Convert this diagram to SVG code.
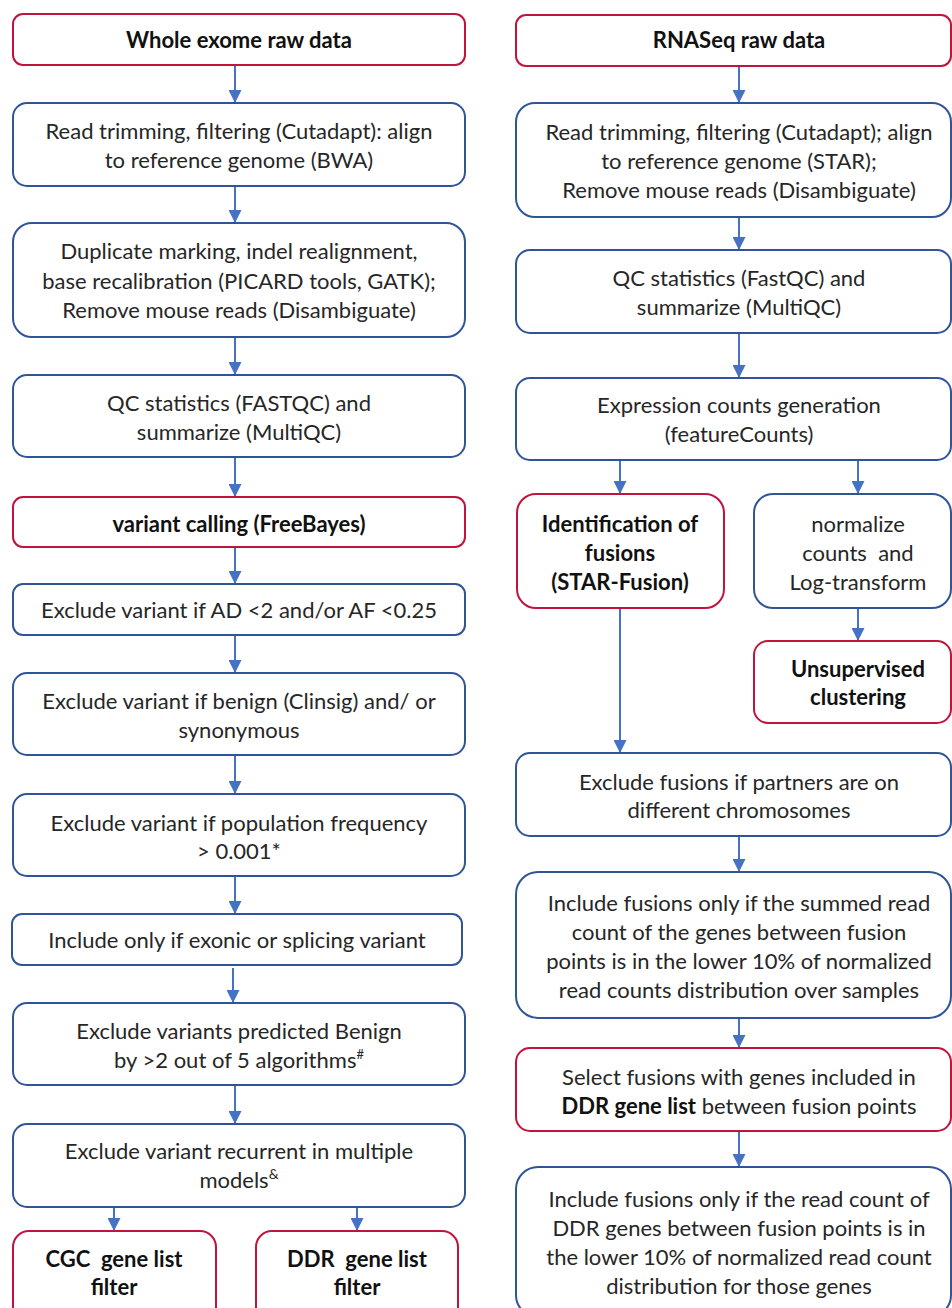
<svg xmlns="http://www.w3.org/2000/svg" width="952" height="1308" viewBox="0 0 952 1308">
<defs>
<marker id="ah" markerUnits="userSpaceOnUse" markerWidth="13" markerHeight="13" refX="13" refY="6.5" orient="auto"><path d="M0,0 L13,6.5 L0,13 z" fill="#4472C4"/></marker>
<style>
.b{fill:#fff;stroke:#2F5597;stroke-width:2}
.r{fill:#fff;stroke:#C0143C;stroke-width:2}
text{font-family:Lato,"Open Sans","DejaVu Sans",sans-serif;font-size:22px;fill:#262626;text-anchor:middle}
.bd{font-weight:bold;fill:#111}
.c line{stroke:#4472C4;stroke-width:2;marker-end:url(#ah)}
</style>
</defs>
<rect width="952" height="1308" fill="#fff"/>
<g class="c" id="connectors">
<line x1="235" y1="65" x2="235" y2="103"/>
<line x1="235" y1="186" x2="235" y2="223"/>
<line x1="235" y1="337" x2="235" y2="375"/>
<line x1="235" y1="457" x2="235" y2="497"/>
<line x1="235" y1="547" x2="235" y2="584"/>
<line x1="235" y1="635" x2="235" y2="673"/>
<line x1="235" y1="755" x2="235" y2="794"/>
<line x1="235" y1="876" x2="235" y2="914"/>
<line x1="233" y1="968" x2="233" y2="1003"/>
<line x1="235" y1="1085" x2="235" y2="1124"/>
<line x1="114" y1="1207" x2="114" y2="1231"/>
<line x1="357" y1="1207" x2="357" y2="1231"/>
<line x1="739" y1="66" x2="739" y2="103"/>
<line x1="739" y1="217" x2="739" y2="250"/>
<line x1="739" y1="333" x2="739" y2="378"/>
<line x1="620" y1="460" x2="620" y2="494"/>
<line x1="858" y1="460" x2="858" y2="494"/>
<line x1="858" y1="608" x2="858" y2="641"/>
<line x1="620" y1="608" x2="620" y2="753"/>
<line x1="739" y1="836" x2="739" y2="872"/>
<line x1="739" y1="1018" x2="739" y2="1048"/>
<line x1="739" y1="1131" x2="739" y2="1167"/>
</g>
<g id="L1"><rect class="r" x="13" y="14" width="452" height="51" rx="10"/><text class="bd" x="239" y="48">Whole exome raw data</text></g>
<g id="L2"><rect class="b" x="13" y="103" width="452" height="83" rx="14"/><text x="239" y="139">Read trimming, filtering (Cutadapt): align</text><text x="239" y="168">to reference genome (BWA)</text></g>
<g id="L3"><rect class="b" x="13" y="223" width="452" height="114" rx="19"/><text x="239" y="259">Duplicate marking, indel realignment,</text><text x="239" y="289">base recalibration (PICARD tools, GATK);</text><text x="239" y="318">Remove mouse reads (Disambiguate)</text></g>
<g id="L4"><rect class="b" x="13" y="375" width="452" height="82" rx="14"/><text x="239" y="411">QC statistics (FASTQC) and</text><text x="239" y="440">summarize (MultiQC)</text></g>
<g id="L5"><rect class="r" x="13" y="497" width="452" height="50" rx="10"/><text class="bd" x="239" y="532">variant calling (FreeBayes)</text></g>
<g id="L6"><rect class="b" x="13" y="584" width="452" height="51" rx="10"/><text x="239" y="618">Exclude variant if AD &lt;2 and/or AF &lt;0.25</text></g>
<g id="L7"><rect class="b" x="13" y="673" width="452" height="82" rx="14"/><text x="239" y="709">Exclude variant if benign (Clinsig) and/ or</text><text x="239" y="738">synonymous</text></g>
<g id="L8"><rect class="b" x="13" y="794" width="452" height="82" rx="14"/><text x="239" y="831">Exclude variant if population frequency</text><text x="239" y="859">&gt; 0.001*</text></g>
<g id="L9"><rect class="b" x="12" y="914" width="450" height="51" rx="10"/><text x="237" y="948">Include only if exonic or splicing variant</text></g>
<g id="L10"><rect class="b" x="13" y="1003" width="452" height="82" rx="14"/><text x="239" y="1039">Exclude variants predicted Benign</text><text x="239" y="1068">by &gt;2 out of 5 algorithms<tspan font-size="13" dy="-9">#</tspan></text></g>
<g id="L11"><rect class="b" x="13" y="1124" width="452" height="83" rx="14"/><text x="239" y="1159">Exclude variant recurrent in multiple</text><text x="239" y="1188">models<tspan font-size="14" dy="-9">&amp;</tspan></text></g>
<g id="L12"><rect class="r" x="13" y="1231" width="203" height="100" rx="16"/><text class="bd" x="114" y="1267" style="white-space:pre">CGC  gene list</text><text class="bd" x="114" y="1295">filter</text></g>
<g id="L13"><rect class="r" x="256" y="1231" width="202" height="100" rx="16"/><text class="bd" x="357" y="1267" style="white-space:pre">DDR  gene list</text><text class="bd" x="357" y="1295">filter</text></g>
<g id="R1"><rect class="r" x="516" y="15" width="435" height="51" rx="10"/><text class="bd" x="739" y="48">RNASeq raw data</text></g>
<g id="R2"><rect class="b" x="516" y="103" width="435" height="114" rx="19"/><text x="739" y="140">Read trimming, filtering (Cutadapt); align</text><text x="739" y="169">to reference genome (STAR);</text><text x="739" y="198">Remove mouse reads (Disambiguate)</text></g>
<g id="R3"><rect class="b" x="516" y="250" width="435" height="83" rx="14"/><text x="739" y="286">QC statistics (FastQC) and</text><text x="739" y="315">summarize (MultiQC)</text></g>
<g id="R4"><rect class="b" x="516" y="378" width="435" height="82" rx="14"/><text x="739" y="413">Expression counts generation</text><text x="739" y="442">(featureCounts)</text></g>
<g id="R5"><rect class="r" x="517" y="494" width="207" height="114" rx="19"/><text class="bd" x="620" y="532">Identification of</text><text class="bd" x="620" y="561">fusions</text><text class="bd" x="620" y="590">(STAR-Fusion)</text></g>
<g id="R6"><rect class="b" x="754" y="494" width="197" height="114" rx="19"/><text x="858" y="532">normalize</text><text x="858" y="561" style="white-space:pre">counts  and</text><text x="858" y="590">Log-transform</text></g>
<g id="R7"><rect class="r" x="754" y="641" width="197" height="82" rx="14"/><text class="bd" x="858" y="677">Unsupervised</text><text class="bd" x="858" y="705">clustering</text></g>
<g id="R8"><rect class="b" x="516" y="753" width="435" height="83" rx="14"/><text x="739" y="790">Exclude fusions if partners are on</text><text x="739" y="818">different chromosomes</text></g>
<g id="R9"><rect class="b" x="516" y="872" width="435" height="146" rx="22"/><text x="739" y="911">Include fusions only if the summed read</text><text x="739" y="940">count of the genes between fusion</text><text x="739" y="969">points is in the lower 10% of normalized</text><text x="739" y="998">read counts distribution over samples</text></g>
<g id="R10"><rect class="r" x="516" y="1048" width="435" height="83" rx="14"/><text x="739" y="1085">Select fusions with genes included in</text><text x="739" y="1114"><tspan class="bd">DDR gene list</tspan> between fusion points</text></g>
<g id="R11"><rect class="b" x="516" y="1167" width="435" height="150" rx="22"/><text x="739" y="1207">Include fusions only if the read count of</text><text x="739" y="1236">DDR genes between fusion points is in</text><text x="739" y="1265">the lower 10% of normalized read count</text><text x="739" y="1294">distribution for those genes</text></g>
</svg>
